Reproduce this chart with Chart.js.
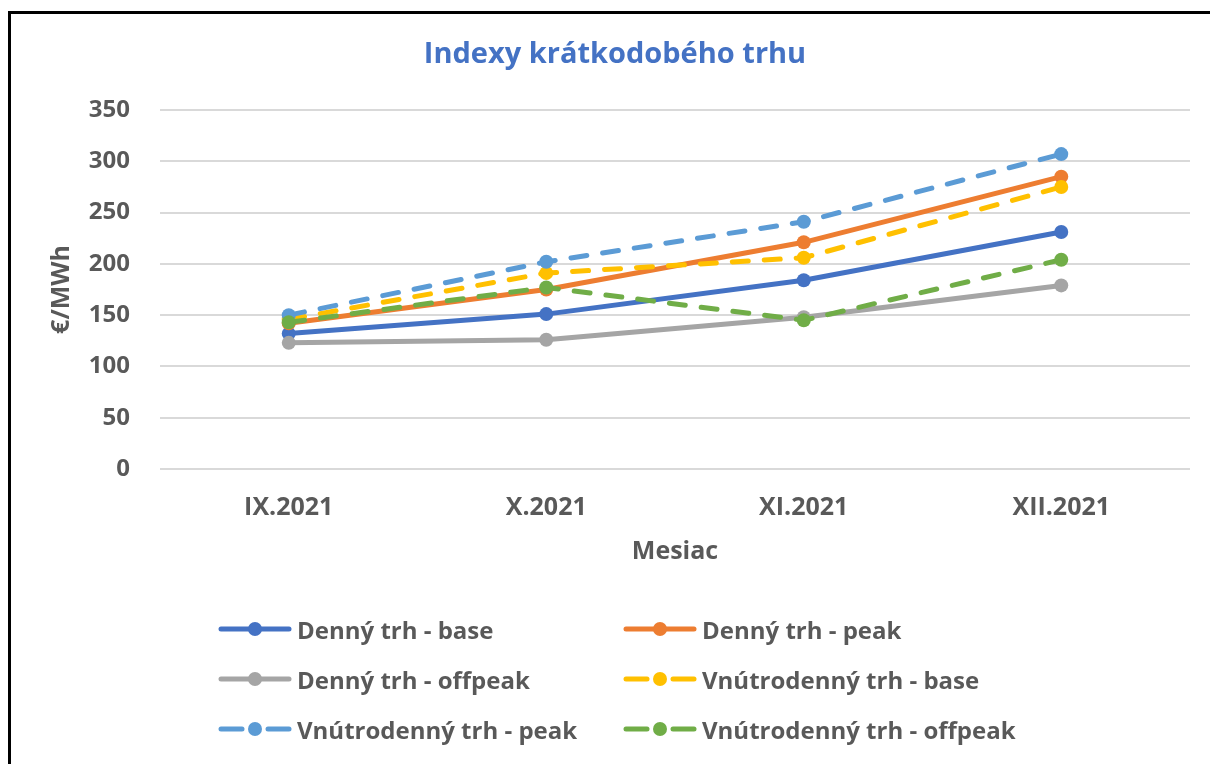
<!DOCTYPE html>
<html>
<head>
<meta charset="utf-8">
<script src="https://cdn.jsdelivr.net/npm/chart.js@4.4.0/dist/chart.umd.min.js"></script>
<style>
  html, body { margin: 0; padding: 0; background: #fff; width: 1210px; height: 764px; overflow: hidden; }
  #frame { position: absolute; left: 8px; top: 11px; width: 1300px; height: 900px; border: 3px solid #000; box-sizing: border-box; }
  #wrap { position: absolute; left: 0; top: 0; width: 1210px; height: 764px; }
  #legend { position: absolute; left: 0; top: 0; width: 1210px; height: 764px; pointer-events: none;
            font-family: "Open Sans", Lato, sans-serif; font-weight: bold; font-size: 24px; color: #595959; }
  .item { position: absolute; height: 30px; display: flex; align-items: center; white-space: nowrap; }
  .item canvas { margin-right: 5px; }
</style>
</head>
<body>
<div id="frame"></div>
<div id="wrap"><canvas id="c" width="1210" height="764"></canvas></div>
<div id="legend"></div>
<script>
const categories = ['IX.2021', 'X.2021', 'XI.2021', 'XII.2021'];
const seriesNames = ['Denný trh - base', 'Denný trh - peak', 'Denný trh - offpeak',
                     'Vnútrodenný trh - base', 'Vnútrodenný trh - peak', 'Vnútrodenný trh - offpeak'];
const dennyBase = [132, 151, 184, 231];
const dennyPeak = [142, 175, 221, 285];
const dennyOffpeak = [123, 126, 148, 179];
const vnutroBase = [146, 191, 206, 275];
const vnutroPeak = [150, 202, 241, 307];
const vnutroOffpeak = [143, 177, 145, 204];
const yTicks = [0, 50, 100, 150, 200, 250, 300, 350];

const colors = ['#4472C4', '#ED7D31', '#A5A5A5', '#FFC000', '#5B9BD5', '#70AD47'];
const dashed = [false, false, false, true, true, true];
const values = [dennyBase, dennyPeak, dennyOffpeak, vnutroBase, vnutroPeak, vnutroOffpeak];

const FONT = '"Open Sans", Lato, sans-serif';
const GRAY = '#595959';

const datasets = values.map((v, i) => ({
  label: seriesNames[i],
  data: v,
  borderColor: colors[i],
  backgroundColor: colors[i],
  borderWidth: 5,
  borderDash: dashed[i] ? [16, 16] : [],
  borderCapStyle: 'round',
  borderJoinStyle: 'round',
  pointRadius: 7,
  pointHoverRadius: 7,
  pointBorderWidth: 0,
  pointBackgroundColor: colors[i],
  tension: 0,
  order: values.length - i
}));

const chart = new Chart(document.getElementById('c'), {
  type: 'line',
  data: { labels: categories, datasets },
  options: {
    responsive: false,
    animation: false,
    layout: { padding: { left: 40, right: 20, top: 0, bottom: 164 } },
    plugins: {
      legend: { display: false },
      tooltip: { enabled: false },
      title: {
        display: true,
        text: 'Indexy krátkodobého trhu',
        color: '#4472C4',
        font: { family: FONT, size: 29, weight: 'bold', lineHeight: 1.2 },
        padding: { top: 37.6, bottom: 37.6 }
      }
    },
    scales: {
      x: {
        offset: true,
        grid: { display: false, drawTicks: false },
        border: { display: false },
        ticks: { color: GRAY, font: { family: FONT, size: 25, weight: 'bold' }, padding: 24, maxRotation: 0 },
        title: { display: true, text: 'Mesiac', color: GRAY, font: { family: FONT, size: 25, weight: 'bold', lineHeight: 1.2 }, padding: { top: 0, bottom: 33 } },
        afterFit: (s) => { s.height = 131; }
      },
      y: {
        min: 0, max: 350,
        afterBuildTicks: (s) => { s.ticks = yTicks.map(v => ({ value: v })); },
        grid: { color: '#D9D9D9', lineWidth: 2, drawTicks: false },
        border: { display: false },
        ticks: { color: GRAY, font: { family: FONT, size: 24, weight: 'bold' }, padding: 30 },
        title: { display: true, text: '€/MWh', color: GRAY, font: { family: FONT, size: 25, weight: 'bold', lineHeight: 1.2 }, padding: { top: 7, bottom: 0 } },
        afterFit: (s) => { s.width = 120; }
      }
    }
  }
});

// HTML legend built from datasets
const legend = document.getElementById('legend');
const colX = [218, 623];
const rowY = [614, 664, 714];
chart.data.datasets.forEach((ds, i) => {
  const item = document.createElement('div');
  item.className = 'item';
  item.style.left = colX[i % 2] + 'px';
  item.style.top = rowY[Math.floor(i / 2)] + 'px';
  const c = document.createElement('canvas');
  c.width = 74; c.height = 30;
  const ctx = c.getContext('2d');
  ctx.strokeStyle = ds.borderColor;
  ctx.fillStyle = ds.borderColor;
  ctx.lineWidth = 5;
  ctx.lineCap = 'round';
  if (dashed[i]) {
    ctx.beginPath(); ctx.moveTo(3, 15); ctx.lineTo(24, 15); ctx.stroke();
    ctx.beginPath(); ctx.moveTo(50, 15); ctx.lineTo(71, 15); ctx.stroke();
  } else {
    ctx.beginPath(); ctx.moveTo(3, 15); ctx.lineTo(71, 15); ctx.stroke();
  }
  ctx.beginPath(); ctx.arc(37, 15, 7, 0, Math.PI * 2); ctx.fill();
  item.appendChild(c);
  const t = document.createElement('span');
  t.textContent = ds.label;
  item.appendChild(t);
  legend.appendChild(item);
});
</script>
</body>
</html>
